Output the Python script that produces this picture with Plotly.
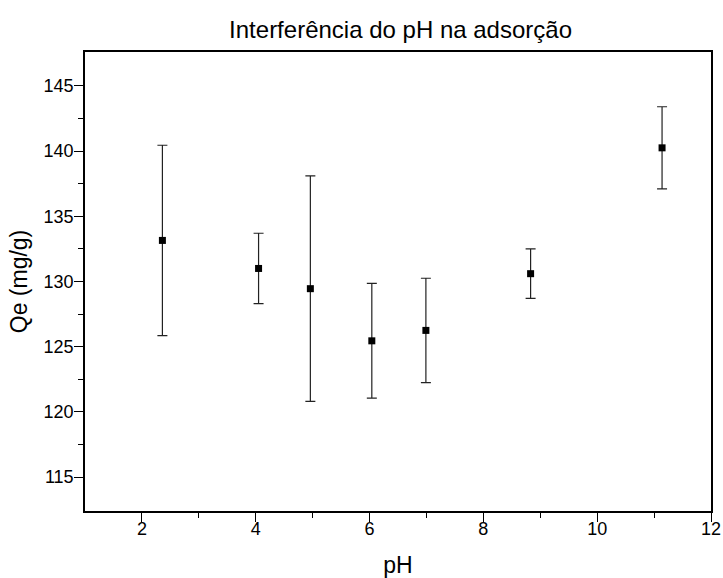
import plotly.graph_objects as go

ph = [2.36, 4.05, 4.96, 6.04, 6.99, 8.83, 11.14]
qe = [133.15, 131.0, 129.45, 125.45, 126.25, 130.6, 140.25]
err = [7.3, 2.7, 8.65, 4.4, 4.0, 1.9, 3.15]

title = "Interferência do pH na adsorção"
xlabel = "pH"
ylabel = "Qe (mg/g)"

fig = go.Figure()
fig.add_trace(go.Scatter(
    x=ph, y=qe, mode="markers",
    marker=dict(symbol="square", size=7, color="black"),
    error_y=dict(type="data", array=err, visible=True, color="#222222",
                 thickness=1.2, width=5),
    showlegend=False,
))

font = "Liberation Sans, Arial, sans-serif"
fig.update_layout(
    width=723, height=578,
    margin=dict(l=85, r=12, t=52, b=67),
    paper_bgcolor="white", plot_bgcolor="white",
    font=dict(family=font, color="black"),
    title=dict(text=title, x=0.554, xanchor="center", y=0.948, yanchor="middle",
               font=dict(size=24, family=font)),
)
fig.update_xaxes(
    range=[1, 12], tickvals=[2, 4, 6, 8, 10, 12],
    showgrid=False, zeroline=False, automargin=False,
    showline=True, linecolor="black", linewidth=1.5, mirror=True,
    ticks="outside", ticklen=9, tickwidth=1, tickcolor="black",
    tickfont=dict(size=18), ticklabelstandoff=-8,
    minor=dict(tickvals=[3, 5, 7, 9, 11], ticks="outside", ticklen=5, tickcolor="black"),
    title=dict(text=xlabel, font=dict(size=23), standoff=26),
)
fig.update_yaxes(
    range=[112.4, 147.6], tickvals=[115, 120, 125, 130, 135, 140, 145],
    showgrid=False, zeroline=False, automargin=False,
    showline=True, linecolor="black", linewidth=1.5, mirror=True,
    ticks="outside", ticklen=9, tickwidth=1, tickcolor="black",
    tickfont=dict(size=18), ticklabelstandoff=-3,
    minor=dict(tickvals=[117.5, 122.5, 127.5, 132.5, 137.5, 142.5], ticks="outside",
               ticklen=5, tickcolor="black"),
    title=dict(text=ylabel, font=dict(size=23), standoff=10),
)

fig.write_html("out.html")
